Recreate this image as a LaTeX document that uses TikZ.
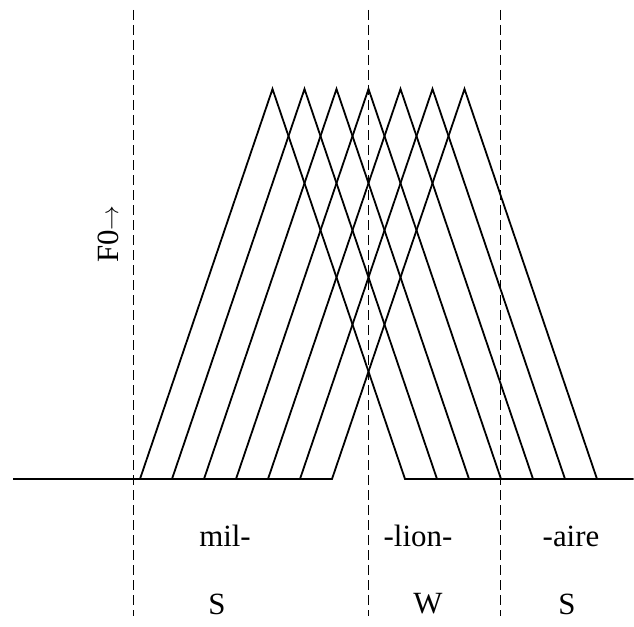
\documentclass[tikz,border=0pt]{standalone}
\usepackage{fontspec}
\setmainfont{Liberation Serif}
\begin{document}
\begin{tikzpicture}[x=1bp, y=-1bp, line width=1.8bp,
	bound/.style={dashed, line width=1.6bp, dash pattern=on 10bp off 5bp},
	syl/.style={font=\fontsize{31}{36}\selectfont, inner sep=0pt}]
	\useasboundingbox (0,0) rectangle (634,627);
	% pitch contours
	\foreach \k in {0,...,6} {
		\coordinate (L\k) at (140+32*\k,479);
		\coordinate (P\k) at (272.5+32*\k,89);
		\coordinate (R\k) at (405+32*\k,479);
		\draw[line join=miter] (13,479) -- (L\k) -- (P\k) -- (R\k) -- (633,479);
	}
	% syllable boundaries
	\foreach \x/\n in {133.5/b1, 368.5/b2, 500.5/b3} {
		\coordinate (\n top) at (\x,10);
		\coordinate (\n bot) at (\x,616);
		\draw[bound] (\n top) -- (\n bot);
	}
	\node[syl, rotate=90] (f0) at (108,234) {F0$\rightarrow$};
	\node[syl] (mil) at (225,536) {mil-};
	\node[syl] (lion) at (418,536) {-lion-};
	\node[syl] (aire) at (571,536) {-aire};
	\node[syl] (s1) at (217,604) {S};
	\node[syl] (w) at (428,604) {W};
	\node[syl] (s2) at (567,604) {S};
\end{tikzpicture}
\end{document}
